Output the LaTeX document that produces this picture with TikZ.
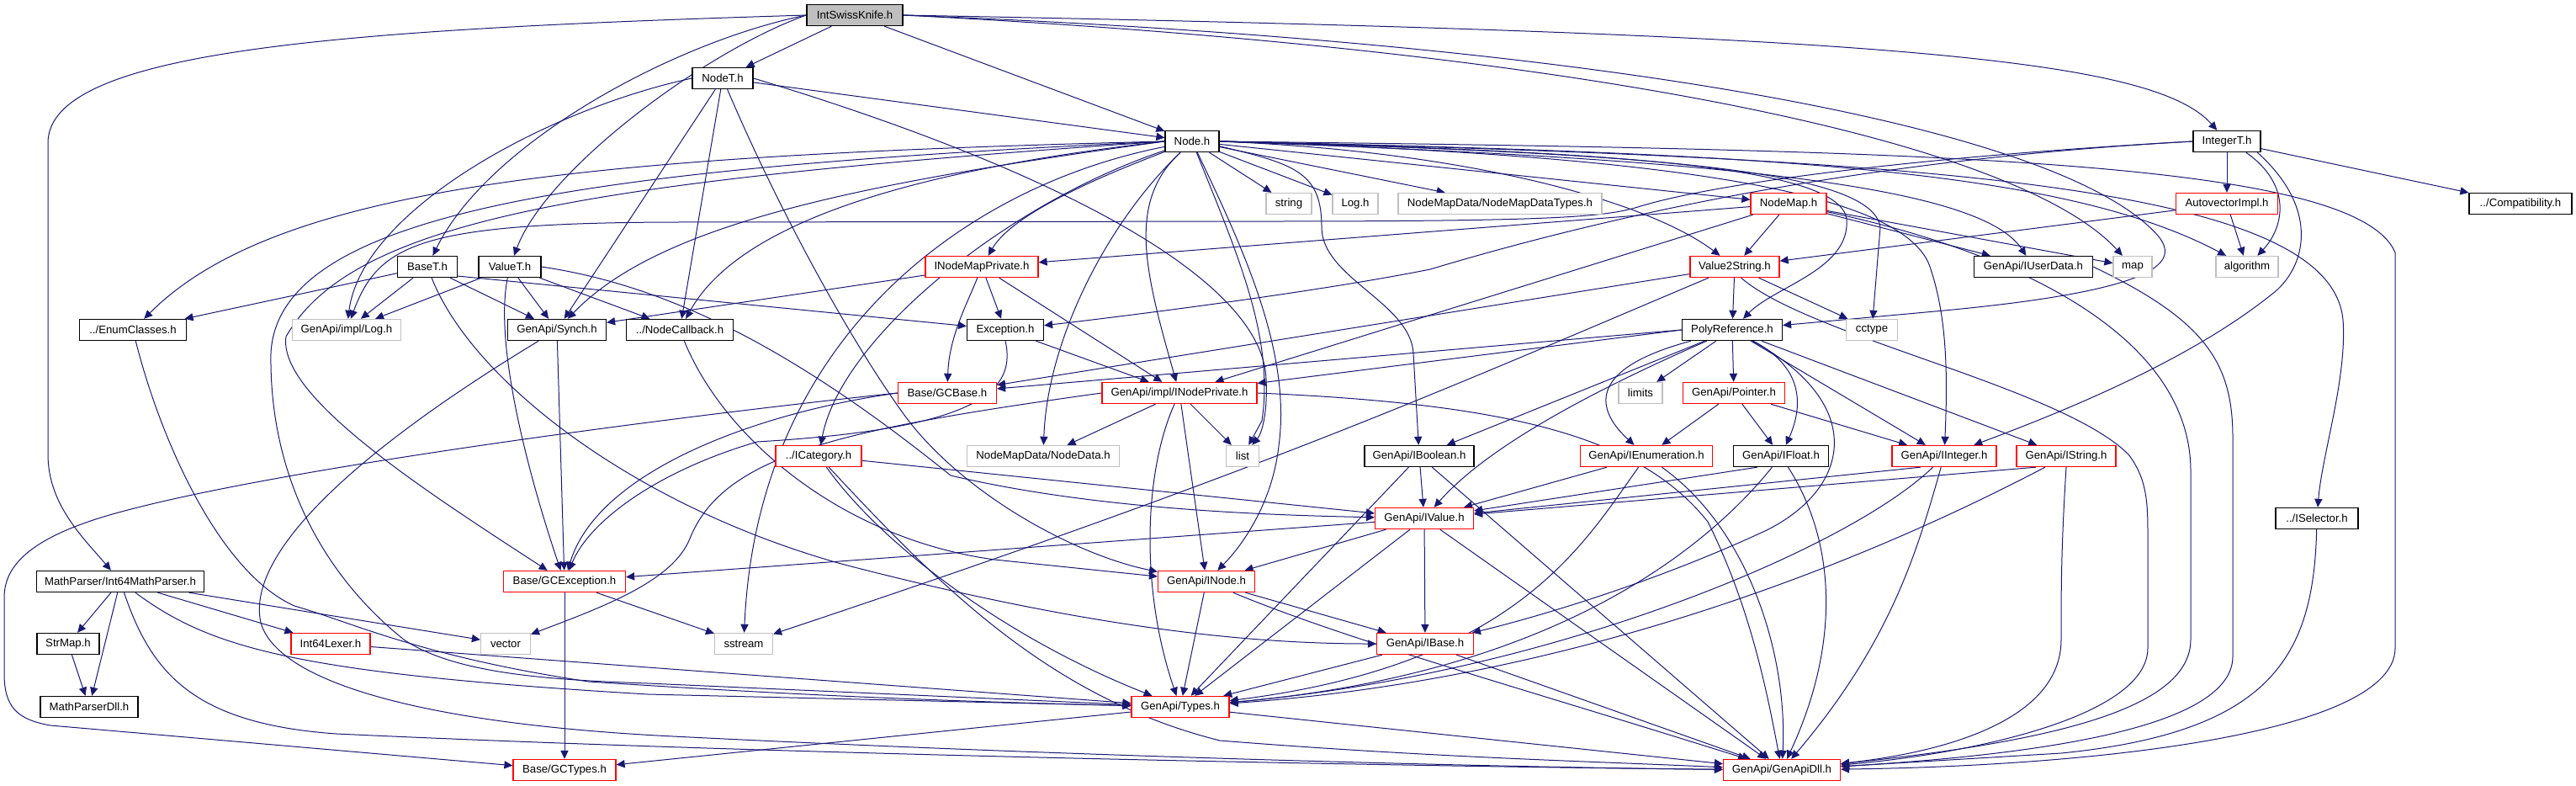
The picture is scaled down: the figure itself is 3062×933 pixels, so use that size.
\documentclass[tikz,border=0pt]{standalone}
\usepackage{fontspec}
\setmainfont{Liberation Sans}
\usetikzlibrary{arrows.meta}
\pgfdeclarelayer{bg}
\pgfsetlayers{bg,main}
\definecolor{mblue}{HTML}{191970}
\definecolor{lgray}{HTML}{BFBFBF}
\tikzset{
  nb/.style={draw=black, line width=0.6pt, rectangle, minimum height=12.6pt, inner sep=0pt, fill=white, font=\fontsize{6.6}{7.5}\selectfont},
  nr/.style={nb, draw=red},
  ng/.style={nb, draw=lgray},
  e/.style={draw=mblue, line width=0.5pt, -{Triangle[length=5pt,width=4.6pt]}}
}
\begin{document}
\begin{tikzpicture}[x=0.5pt,y=-0.5pt]
\useasboundingbox (0,0) rectangle (3062,933);
% row 1-3
\node[nb, fill=lgray, minimum width=57pt] (isk) at (1016,18) {IntSwissKnife.h};
\node[nb, minimum width=36pt] (nodet) at (859,93) {NodeT.h};
\node[nb, minimum width=32pt] (node) at (1417,168) {Node.h};
\node[nb, minimum width=40pt] (integert) at (2647,168) {IntegerT.h};
% row 242
\node[ng, minimum width=27pt] (string) at (1532,242) {string};
\node[ng, minimum width=27pt] (logh) at (1611,242) {Log.h};
\node[ng, minimum width=121pt] (nmdt) at (1783,242) {NodeMapData/NodeMapDataTypes.h};
\node[nr, minimum width=45pt] (nodemap) at (2126,242) {NodeMap.h};
\node[nr, minimum width=60.5pt] (autovec) at (2647,242) {AutovectorImpl.h};
\node[nb, minimum width=61pt] (compat) at (2996,242) {../Compatibility.h};
% row 317
\node[nb, minimum width=35.5pt] (baset) at (508,317) {BaseT.h};
\node[nb, minimum width=37pt] (valuet) at (606,317) {ValueT.h};
\node[nr, minimum width=67pt] (inmp) at (1167,317) {INodeMapPrivate.h};
\node[nr, minimum width=53pt] (v2s) at (2062,317) {Value2String.h};
\node[nb, minimum width=70.5pt] (iuserdata) at (2417,317) {GenApi/IUserData.h};
\node[ng, minimum width=23pt] (map) at (2535,317) {map};
\node[ng, minimum width=37pt] (algorithm) at (2671,317) {algorithm};
% row 392
\node[nb, minimum width=63.5pt] (enumc) at (158,392) {../EnumClasses.h};
\node[ng, minimum width=64.5pt] (logimpl) at (412,392) {GenApi/impl/Log.h};
\node[nb, minimum width=58.5pt] (synch) at (662,392) {GenApi/Synch.h};
\node[nb, minimum width=63.5pt] (nodecb) at (808,392) {../NodeCallback.h};
\node[nb, minimum width=45.5pt] (exception) at (1195,392) {Exception.h};
\node[nb, minimum width=59.5pt] (polyref) at (2059,392) {PolyReference.h};
\node[ng, minimum width=30.5pt] (cctype) at (2225,392) {cctype};
% row 467
\node[nr, minimum width=58.5pt] (gcbase) at (1126,467) {Base/GCBase.h};
\node[nr, minimum width=92pt] (inodepriv) at (1402,467) {GenApi/impl/INodePrivate.h};
\node[ng, minimum width=26pt] (limits) at (1950,467) {limits};
\node[nr, minimum width=60.5pt] (pointer) at (2061,467) {GenApi/Pointer.h};
% row 542
\node[nr, minimum width=51pt] (icategory) at (973,542) {../ICategory.h};
\node[ng, minimum width=90.5pt] (nodedata) at (1240,542) {NodeMapData/NodeData.h};
\node[ng, minimum width=19.5pt] (list) at (1477,542) {list};
\node[nb, minimum width=65pt] (iboolean) at (1687,542) {GenApi/IBoolean.h};
\node[nr, minimum width=78.5pt] (ienum) at (1957,542) {GenApi/IEnumeration.h};
\node[nb, minimum width=56.5pt] (ifloat) at (2117,542) {GenApi/IFloat.h};
\node[nr, minimum width=62pt] (iinteger) at (2311,542) {GenApi/IInteger.h};
\node[nr, minimum width=59pt] (istring) at (2456,542) {GenApi/IString.h};
% row 616
\node[nr, minimum width=58.5pt] (ivalue) at (1693,616) {GenApi/IValue.h};
\node[nb, minimum width=49pt] (iselector) at (2754,616) {../ISelector.h};
% row 691
\node[nb, minimum width=99.5pt] (mathparser) at (143,691) {MathParser/Int64MathParser.h};
\node[nr, minimum width=72.5pt] (gcexception) at (671,691) {Base/GCException.h};
\node[nr, minimum width=57.5pt] (inode) at (1434,691) {GenApi/INode.h};
% row 765
\node[nb, minimum width=37pt] (strmap) at (81,765) {StrMap.h};
\node[nr, minimum width=47pt] (lexer) at (393,765) {Int64Lexer.h};
\node[ng, minimum width=29.5pt] (vector) at (601,765) {vector};
\node[ng, minimum width=34.5pt] (sstream) at (884,765) {sstream};
\node[nr, minimum width=57.5pt] (ibase) at (1694,765) {GenApi/IBase.h};
% row 840
\node[nb, minimum width=58pt] (mpdll) at (106,840) {MathParserDll.h};
\node[nr, minimum width=58pt] (types) at (1403,840) {GenApi/Types.h};
% row 915
\node[nr, minimum width=61pt] (gctypes) at (671,915) {Base/GCTypes.h};
\node[nr, minimum width=69.5pt] (genapidll) at (2118,915) {GenApi/GenApiDll.h};

\begin{pgfonlayer}{bg}
% IntSwissKnife
\draw[e] (isk) -- (nodet);
\draw[e] (isk) -- (node);
\draw[e] (isk.west) .. controls (400,35) and (57,60) .. (57,170) -- (57,540) .. controls (57,600) and (100,640) .. (mathparser);
\draw[e] (isk.west) .. controls (800,50) and (580,170) .. (baset);
\draw[e] (isk.west) .. controls (840,60) and (650,200) .. (valuet);
\draw[e] (isk.east) .. controls (2250,40) and (2560,70) .. (integert);
\draw[e] (isk.east) .. controls (1900,50) and (2450,150) .. (2565,280) .. controls (2590,310) and (2575,345) .. (2300,370) -- (polyref);
\draw[e] (isk.east) .. controls (1900,60) and (2400,170) .. (map);
% NodeT
\draw[e] (nodet) -- (node);
\draw[e] (nodet.west) .. controls (650,130) and (430,250) .. (logimpl);
\draw[e] (nodet) -- (synch);
\draw[e] (nodet) -- (nodecb);
\draw[e] (nodet) .. controls (930,260) and (1020,420) .. (1080,500) .. controls (1150,590) and (1280,660) .. (inode);
\draw[e] (nodet.east) .. controls (1250,200) and (1500,330) .. (1505,450) .. controls (1507,490) and (1500,515) .. (list);
% Node right side
\draw[e] (node) -- (string);
\draw[e] (node) -- (logh);
\draw[e] (node) -- (nmdt);
\draw[e] (node) -- (nodemap);
\draw[e] (node.east) .. controls (1750,180) and (1960,240) .. (v2s);
\draw[e] (node.east) .. controls (1900,180) and (2185,195) .. (2195,260) .. controls (2200,320) and (2110,340) .. (polyref);
\draw[e] (node.east) .. controls (1950,182) and (2225,200) .. (2235,270) -- (cctype);
\draw[e] (node.east) .. controls (2000,185) and (2270,230) .. (2295,320) .. controls (2315,380) and (2315,450) .. (iinteger);
\draw[e] (node.east) .. controls (2000,188) and (2350,215) .. (iuserdata);
\draw[e] (node.east) .. controls (2100,182) and (2450,200) .. (algorithm);
\draw[e] (node.east) .. controls (2300,188) and (2770,220) .. (2785,380) .. controls (2790,450) and (2760,540) .. (iselector);
\draw[e] (node.east) .. controls (2300,178) and (2800,190) .. (2847,300) -- (2847,770) .. controls (2847,870) and (2500,910) .. (genapidll);
\draw[e] (node.-10) .. controls (1540,195) and (1571,205) .. (1571,270) .. controls (1571,330) and (1677,360) .. (1680,420) -- (iboolean);
% Node left side
\draw[e] (node.west) .. controls (700,185) and (330,220) .. (enumc);
\draw[e] (node.west) .. controls (700,200) and (330,250) .. (322,420) .. controls (320,560) and (380,680) .. (480,760) .. controls (540,800) and (650,808) .. (770,812) -- (types);
\draw[e] (node.west) .. controls (700,215) and (420,260) .. (340,400) .. controls (330,470) and (500,580) .. (gcexception);
\draw[e] (node.west) .. controls (1000,220) and (780,270) .. (synch);
\draw[e] (node.west) .. controls (1100,200) and (880,260) .. (nodecb);
\draw[e] (node) .. controls (1150,220) and (900,400) .. (sstream);
\draw[e] (node) .. controls (1200,240) and (1000,400) .. (icategory);
\draw[e] (node) .. controls (1280,220) and (1200,260) .. (inmp);
\draw[e] (node) .. controls (1320,260) and (1245,400) .. (nodedata);
\draw[e] (node) .. controls (1340,240) and (1360,320) .. (inodepriv);
\draw[e] (node) .. controls (1470,300) and (1515,400) .. (1500,500) -- (list);
\draw[e] (node) .. controls (1480,300) and (1535,420) .. (1520,530) .. controls (1512,600) and (1475,650) .. (inode);
% BaseT
\draw[e] (baset) -- (enumc);
\draw[e] (baset) -- (logimpl);
\draw[e] (baset) -- (synch);
\draw[e] (baset.-17) -- (exception);
\draw[e] (baset) .. controls (560,450) and (750,600) .. (1000,670) .. controls (1250,735) and (1450,765) .. (ibase);
% ValueT
\draw[e] (valuet) -- (logimpl);
\draw[e] (valuet) -- (synch);
\draw[e] (valuet) -- (nodecb);
\draw[e] (valuet) .. controls (585,420) and (640,600) .. (gcexception);
\draw[e] (valuet.east) .. controls (800,340) and (950,420) .. (1130,565) .. controls (1300,605) and (1500,612) .. (ivalue);
% INodeMapPrivate
\draw[e] (inmp) -- (synch);
\draw[e] (inmp) -- (exception);
\draw[e] (inmp) .. controls (1150,360) and (1128,400) .. (gcbase);
\draw[e] (inmp) -- (inodepriv);
% Exception
\draw[e] (exception) -- (inodepriv);
\draw[e] (exception.south) .. controls (1210,470) and (1150,510) .. (900,525) .. controls (780,560) and (700,620) .. (gcexception);
% IntegerT
\draw[e] (integert.west) .. controls (2300,185) and (2000,230) .. (1700,320) .. controls (1550,350) and (1300,380) .. (exception);
\draw[e] (integert.west) .. controls (2300,185) and (2050,215) .. (1950,245) .. controls (1910,258) and (1850,263) .. (1500,263) -- (800,264) .. controls (500,265) and (450,290) .. (logimpl);
\draw[e] (integert) -- (autovec);
\draw[e] (integert) -- (compat);
\draw[e] (integert.-30) .. controls (2725,220) and (2715,270) .. (algorithm);
\draw[e] (integert.-20) .. controls (2760,250) and (2740,320) .. (2700,350) .. controls (2600,430) and (2450,490) .. (iinteger);
% AutovectorImpl
\draw[e] (autovec) -- (v2s);
\draw[e] (autovec) -- (algorithm);
% NodeMap
\draw[e] (nodemap) -- (v2s);
\draw[e] (nodemap) -- (inmp);
\draw[e] (nodemap) -- (inodepriv);
\draw[e] (nodemap) -- (map);
\draw[e] (nodemap) -- (iuserdata);
\draw[e] (nodemap) .. controls (2400,300) and (2604,400) .. (2604,560) -- (2604,760) .. controls (2604,840) and (2450,880) .. (genapidll);
% Value2String
\draw[e] (v2s) -- (polyref);
\draw[e] (v2s) -- (cctype);
\draw[e] (v2s) -- (gcbase);
\draw[e] (v2s) .. controls (1700,470) and (1500,560) .. (sstream);
\draw[e] (v2s.-60) .. controls (2150,400) and (2450,460) .. (2530,540) .. controls (2553,570) and (2553,600) .. (2553,640) -- (2553,770) .. controls (2553,850) and (2350,895) .. (genapidll);
% IUserData, ISelector
\draw[e] (iuserdata.east) .. controls (2620,380) and (2654,430) .. (2654,520) -- (2654,780) .. controls (2654,860) and (2450,895) .. (genapidll);
\draw[e] (iselector) .. controls (2750,780) and (2700,870) .. (2450,895) -- (genapidll);
% PolyReference
\draw[e] (polyref) -- (limits);
\draw[e] (polyref) -- (pointer);
\draw[e] (polyref) .. controls (1880,440) and (1900,490) .. (ienum);
\draw[e] (polyref) .. controls (2150,440) and (2140,490) .. (ifloat);
\draw[e] (polyref) -- (iboolean);
\draw[e] (polyref) .. controls (1864,477) and (1760,540) .. (ivalue);
\draw[e] (polyref.west) -- (inodepriv);
\draw[e] (polyref.west) -- (gcbase);
\draw[e] (polyref) -- (iinteger);
\draw[e] (polyref) -- (istring);
\draw[e] (polyref) .. controls (2220,480) and (2200,580) .. (2100,630) .. controls (1950,700) and (1800,740) .. (ibase);
% Pointer
\draw[e] (pointer) -- (ienum);
\draw[e] (pointer) -- (ifloat);
\draw[e] (pointer) -- (iinteger);
% INodePrivate
\draw[e] (inodepriv) .. controls (1360,560) and (1355,700) .. (types);
\draw[e] (inodepriv) -- (inode);
\draw[e] (inodepriv) -- (nodedata);
\draw[e] (inodepriv) -- (list);
\draw[e] (inodepriv.west) .. controls (1000,510) and (860,540) .. (820,640) .. controls (800,690) and (720,720) .. (vector);
\draw[e] (inodepriv.east) .. controls (1800,480) and (1950,520) .. (2030,620) .. controls (2080,720) and (2100,820) .. (genapidll);
% ICategory
\draw[e] (icategory) -- (ivalue);
\draw[e] (icategory) .. controls (1050,650) and (1200,760) .. (types);
\draw[e] (icategory) .. controls (1120,700) and (1250,830) .. (1450,880) .. controls (1700,900) and (1900,905) .. (genapidll);
% Synch, NodeCallback, EnumClasses
\draw[e] (synch) -- (gcexception);
\draw[e] (synch) .. controls (450,520) and (290,650) .. (310,740) .. controls (330,810) and (500,860) .. (800,875) .. controls (1300,900) and (1800,912) .. (genapidll);
\draw[e] (nodecb) .. controls (860,520) and (1000,640) .. (1182,665) -- (inode);
\draw[e] (enumc) .. controls (190,520) and (260,680) .. (350,720) .. controls (420,740) and (500,780) .. (700,810) .. controls (1000,830) and (1200,835) .. (types);
% MathParser
\draw[e] (mathparser) -- (strmap);
\draw[e] (mathparser) -- (mpdll);
\draw[e] (mathparser) -- (lexer);
\draw[e] (mathparser) -- (vector);
\draw[e] (mathparser) .. controls (250,770) and (350,800) .. (770,825) -- (types);
\draw[e] (mathparser) .. controls (180,800) and (230,860) .. (400,872) .. controls (1000,900) and (1800,912) .. (genapidll);
\draw[e] (strmap) -- (mpdll);
\draw[e] (lexer) -- (types);
% GCBase
\draw[e] (gcbase.west) .. controls (900,490) and (710,560) .. (gcexception);
\draw[e] (gcbase.west) .. controls (800,495) and (300,560) .. (120,615) .. controls (40,640) and (5,670) .. (5,710) -- (5,800) .. controls (5,840) and (20,855) .. (60,862) -- (gctypes);
% GCException
\draw[e] (gcexception) -- (gctypes);
\draw[e] (gcexception) -- (sstream);
% IValue
\draw[e] (ivalue) -- (gcexception);
\draw[e] (ivalue) -- (inode);
\draw[e] (ivalue) -- (ibase);
\draw[e] (ivalue) -- (types);
\draw[e] (ivalue) -- (genapidll);
% interfaces
\draw[e] (iboolean) -- (ivalue);
\draw[e] (iboolean) -- (types);
\draw[e] (iboolean) -- (genapidll);
\draw[e] (ienum) -- (ivalue);
\draw[e] (ienum) .. controls (1880,650) and (1800,790) .. (types);
\draw[e] (ienum) .. controls (2080,630) and (2125,780) .. (genapidll);
\draw[e] (ifloat.205) -- (ivalue);
\draw[e] (ifloat) .. controls (2030,650) and (1850,800) .. (types);
\draw[e] (ifloat) .. controls (2180,640) and (2190,760) .. (genapidll);
\draw[e] (iinteger.205) -- (ivalue);
\draw[e] (iinteger) .. controls (2200,650) and (1850,800) .. (types);
\draw[e] (iinteger) .. controls (2280,650) and (2250,760) .. (genapidll);
\draw[e] (istring.200) -- (ivalue);
\draw[e] (istring) .. controls (2250,650) and (1900,805) .. (types);
\draw[e] (istring.south) .. controls (2450,650) and (2450,700) .. (2450,760) .. controls (2450,860) and (2300,895) .. (genapidll);
% INode, IBase, Types
\draw[e] (inode) -- (types);
\draw[e] (inode) -- (ibase);
\draw[e] (inode) .. controls (1600,760) and (1800,815) .. (genapidll);
\draw[e] (ibase) -- (types);
\draw[e] (ibase) -- (genapidll);
\draw[e] (types) -- (gctypes);
\draw[e] (types) -- (genapidll);
\end{pgfonlayer}
\end{tikzpicture}
\end{document}
